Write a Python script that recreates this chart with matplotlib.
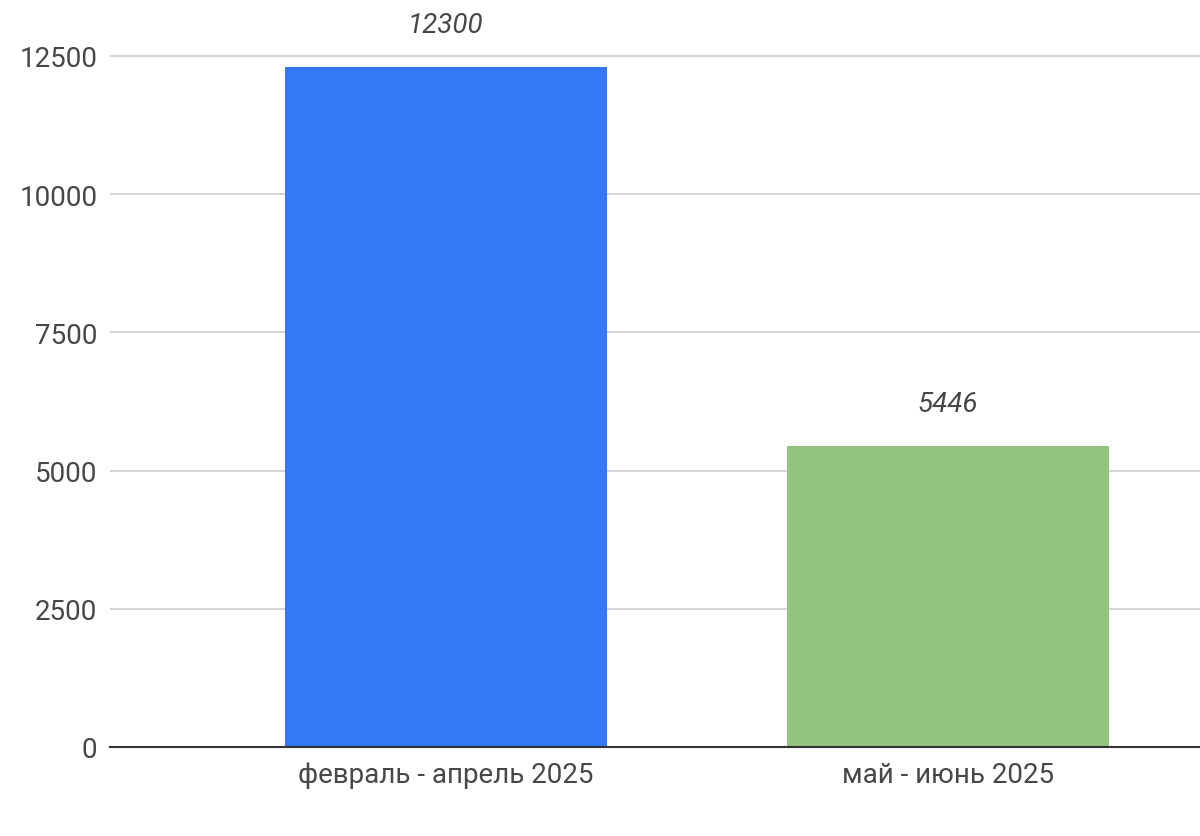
import matplotlib.pyplot as plt

plt.rcParams['font.family'] = ['Roboto', 'DejaVu Sans']

# data
periods = ['февраль - апрель 2025', 'май - июнь 2025']
counts = [12300, 5446]
bar_colors = ['#3478F6', '#93C47D']
yticks = [0, 2500, 5000, 7500, 10000, 12500]

fig = plt.figure(figsize=(12, 8.37), dpi=100)
ax = fig.add_axes([110 / 1200, 1 - 748 / 837, 1090 / 1200, 748 / 837])

x = list(range(len(periods)))
ax.bar(x, counts, width=0.64, color=bar_colors, zorder=3)

for xi, v in zip(x, counts):
    ax.text(xi, v + 633, str(v), ha='center', va='baseline', fontsize=20,
            style='italic', color='#474747')

ax.set_xlim(-0.669, 1.502)
ax.set_ylim(0, 13531)
ax.set_yticks(yticks)
ax.set_xticks(x)
ax.set_xticklabels(periods)
ax.tick_params(axis='both', length=0, labelsize=20, labelcolor='#474747')
ax.tick_params(axis='y', pad=9)
ax.tick_params(axis='x', pad=10)

ax.grid(axis='y', color='#cccccc', linewidth=1.2, zorder=0)
for s in ['top', 'right', 'left']:
    ax.spines[s].set_visible(False)
ax.spines['bottom'].set_color('#333333')
ax.spines['bottom'].set_linewidth(1.5)
ax.spines['bottom'].set_zorder(4)

fig.savefig('out.png', dpi=100)
